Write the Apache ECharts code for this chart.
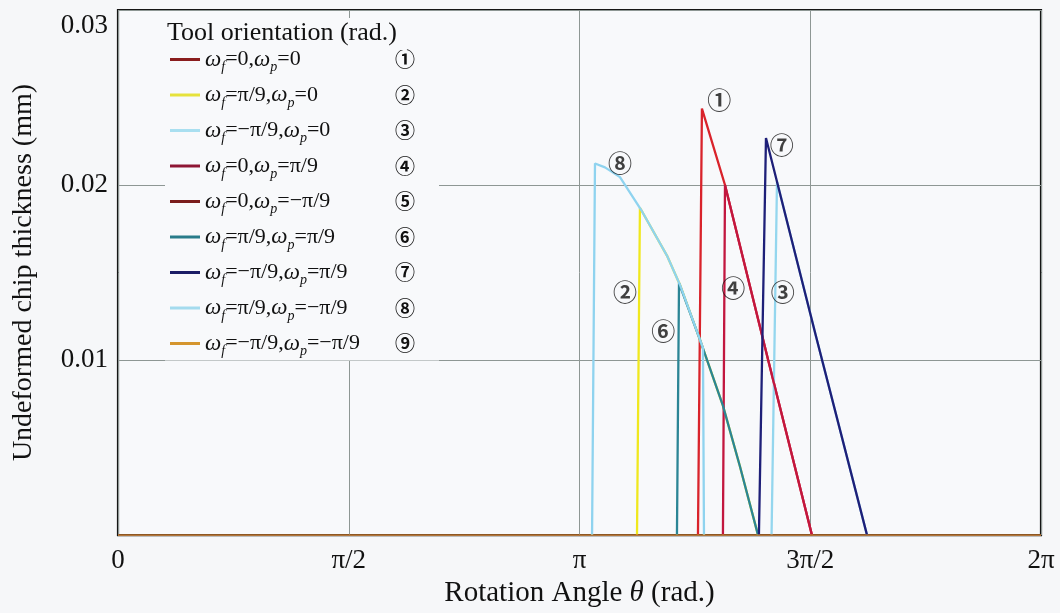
<!DOCTYPE html>
<html><head><meta charset="utf-8">
<script src="https://cdn.jsdelivr.net/npm/echarts@6/dist/echarts.min.js"></script>
<style>html,body{margin:0;padding:0;background:#f6f7f9}#c{width:1060px;height:613px}</style>
</head><body><div id="c"></div>
<script>
// ---- data ----
const xTickLabels = ['0', 'π/2', 'π', '3π/2', '2π'];
const seriesNames = ['wf=0,wp=0', 'wf=π/9,wp=0', 'wf=-π/9,wp=0', 'wf=0,wp=π/9', 'wf=0,wp=-π/9',
                     'wf=π/9,wp=π/9', 'wf=-π/9,wp=π/9', 'wf=π/9,wp=-π/9', 'wf=-π/9,wp=-π/9'];
const omegaF = ['0', 'π/9', '−π/9', '0', '0', 'π/9', '−π/9', 'π/9', '−π/9'];
const omegaP = ['0', '0', '0', 'π/9', '−π/9', 'π/9', 'π/9', '−π/9', '−π/9'];
const circled = ['①', '②', '③', '④', '⑤', '⑥', '⑦', '⑧', '⑨'];

// rotation angle (rad) and undeformed chip thickness (mm)
const theta1 = [3.948, 3.975, 4.132, 4.425, 4.724];
const thick1 = [0, 0.02437, 0.0200, 0.01003, 0];
const theta2 = [3.533, 3.553, 3.560, 3.737, 3.826, 3.962, 4.118, 4.234, 4.357];
const thick2 = [0, 0.0187, 0.0186, 0.01597, 0.01429, 0.01115, 0.0074, 0.00392, 0];
const theta3 = [4.449, 4.486, 4.751, 5.099];
const thick3 = [0, 0.0202, 0.01137, 0];
const theta4 = [4.118, 4.132, 4.425, 4.724];
const thick4 = [0, 0.0200, 0.01003, 0];
const theta5 = [0, 6.2832];
const thick5 = [0, 0];
const theta6 = [3.805, 3.819, 3.962, 4.118, 4.234, 4.357];
const thick6 = [0, 0.0144, 0.01115, 0.0074, 0.00392, 0];
const theta7 = [4.363, 4.411, 4.751, 5.099];
const thick7 = [0, 0.02269, 0.01137, 0];
const theta8 = [3.227, 3.247, 3.315, 3.417, 3.560, 3.737, 3.826, 3.962, 3.982, 3.989];
const thick8 = [0, 0.02123, 0.02101, 0.02045, 0.0186, 0.01597, 0.01429, 0.01115, 0.0107, 0];
const theta9 = [0, 6.2832];
const thick9 = [0, 0];

// curve tags placed on the chart
const tagText = ['①', '②', '③', '④', '⑥', '⑦', '⑧'];
const tagTheta = [4.093, 3.451, 4.525, 4.189, 3.712, 4.518, 3.417];
const tagThick = [0.02484, 0.01391, 0.01391, 0.0141, 0.01167, 0.02231, 0.02129];

// ---- styles ----
const lineColors = ['#d9232b', '#f0e81e', '#94d6ee', '#c2173f', '#7e1c1c', '#2b8595', '#1e1f78', '#8fd3ef', '#d4952e'];
const legendColors = ['#8a1d1d', '#e6e23c', '#a9dff0', '#8e1634', '#7a1c1c', '#2a7c8a', '#1b1d66', '#a4dbee', '#d4952e'];
const lineWidths = [2.3, 2.3, 2.3, 2.3, 1.2, 2.3, 2.3, 2.3, 1.2];
const SERIF = 'Liberation Serif';
const CIRC = 'Noto Sans CJK JP';

const thetas = [theta1, theta2, theta3, theta4, theta5, theta6, theta7, theta8, theta9];
const thicks = [thick1, thick2, thick3, thick4, thick5, thick6, thick7, thick8, thick9];

const series = seriesNames.map((n, i) => ({
  name: n, type: 'line', symbol: 'none', animation: false,
  data: thetas[i].map((t, k) => [t, thicks[i][k]]),
  lineStyle: { color: lineColors[i], width: lineWidths[i] },
  itemStyle: { color: lineColors[i] }
}));
series.push({
  name: 'tags', type: 'scatter', symbolSize: 1, animation: false,
  itemStyle: { color: 'rgba(0,0,0,0)' },
  data: tagText.map((t, k) => ({ value: [tagTheta[k], tagThick[k]], name: t })),
  label: { show: true, position: 'inside', formatter: p => p.name,
           fontFamily: CIRC, fontSize: 24, fontWeight: 'bold', color: '#111' },
  z: 5
});

const chart = echarts.init(document.getElementById('c'));
chart.setOption({
  backgroundColor: '#f6f7f9',
  animation: false,
  title: {
    text: 'Tool orientation (rad.)', left: 164, top: 18, padding: [2, 10, 4, 3],
    backgroundColor: '#f8f9fb',
    textStyle: { fontFamily: SERIF, fontSize: 26, fontWeight: 'normal', color: '#111' }
  },
  grid: {
    left: 118, right: 19, top: 10, bottom: 68, show: true,
    backgroundColor: '#f8f9fb', borderColor: '#151515', borderWidth: 2.2
  },
  legend: {
    orient: 'vertical', left: 165, top: 46, padding: [2, 24, 2, 5],
    itemWidth: 30, itemHeight: 3, itemGap: 9, icon: 'rect',
    backgroundColor: '#f8f9fb', selectedMode: false,
    data: seriesNames.map((n, i) => ({ name: n, itemStyle: { color: legendColors[i] } })),
    formatter: name => {
      const i = seriesNames.indexOf(name);
      return `{w|ω}{s|f}{n|=${omegaF[i]},}{w|ω}{s|p}{n|=${omegaP[i]}}{c|${circled[i]}}`;
    },
    textStyle: {
      width: 210, color: '#111', fontFamily: SERIF, fontSize: 22,
      rich: {
        w: { fontFamily: SERIF, fontStyle: 'italic', fontSize: 23, lineHeight: 30, verticalAlign: 'middle', color: '#111' },
        s: { fontFamily: SERIF, fontStyle: 'italic', fontSize: 14, lineHeight: 14, verticalAlign: 'bottom', color: '#111' },
        n: { fontFamily: SERIF, fontSize: 22, lineHeight: 30, verticalAlign: 'middle', color: '#111' },
        c: { fontFamily: CIRC, fontSize: 20, fontWeight: 'bold', lineHeight: 30, align: 'right', verticalAlign: 'middle', color: '#111' }
      }
    }
  },
  xAxis: {
    type: 'value', min: 0, max: 2 * Math.PI, interval: Math.PI / 2,
    axisLine: { show: false }, axisTick: { show: false },
    splitLine: { show: true, lineStyle: { color: '#8e9794', width: 1 } },
    axisLabel: {
      showMinLabel: true, showMaxLabel: true, margin: 12,
      fontFamily: SERIF, fontSize: 27, color: '#111',
      formatter: v => xTickLabels[Math.round(v / (Math.PI / 2))]
    },
    name: 'Rotation Angle {i|θ} (rad.)', nameLocation: 'middle', nameGap: 40,
    nameTextStyle: { fontFamily: SERIF, fontSize: 29, color: '#111',
      rich: { i: { fontFamily: SERIF, fontStyle: 'italic', fontSize: 29, color: '#111' } } }
  },
  yAxis: {
    type: 'value', min: 0, max: 0.03, interval: 0.01,
    axisLine: { show: false }, axisTick: { show: false },
    splitLine: { show: true, lineStyle: { color: '#8e9794', width: 1 } },
    axisLabel: {
      margin: 10, fontFamily: SERIF, fontSize: 27, color: '#111',
      formatter: v => v === 0 ? '' : (v > 0.0295 ? '{t|' + v.toFixed(2) + '}' : v.toFixed(2)),
      rich: { t: { fontFamily: SERIF, fontSize: 27, color: '#111', padding: [32, 0, 0, 0] } }
    },
    name: 'Undeformed chip thickness (mm)', nameLocation: 'middle', nameGap: 80,
    nameTextStyle: { fontFamily: SERIF, fontSize: 28, color: '#111' }
  },
  series: series
});
</script></body></html>
